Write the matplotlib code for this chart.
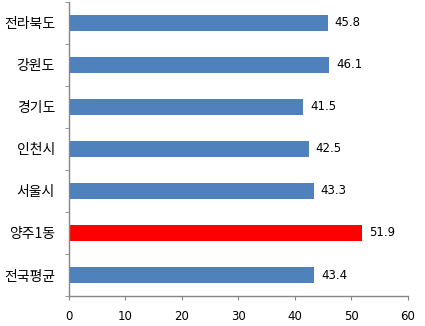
import matplotlib
matplotlib.use("Agg")
import matplotlib.pyplot as plt
from matplotlib.ticker import FixedLocator

plt.rcParams['font.family'] = ['Noto Sans CJK KR', 'DejaVu Sans']

categories = ["전라북도", "강원도", "경기도", "인천시", "서울시", "양주1동", "전국평균"]
values = [45.8, 46.1, 41.5, 42.5, 43.3, 51.9, 43.4]
highlight = "양주1동"
xticks = [0, 10, 20, 30, 40, 50, 60]

blue = "#4F81BD"
red = "#FF0000"
axis_col = "#868686"

fig = plt.figure(figsize=(4.25, 3.26), dpi=100)
ax = fig.add_axes([0.162, 0.092, 0.798, 0.902])

n = len(categories)
pos = list(range(n))[::-1]
colors = [red if c == highlight else blue for c in categories]
ax.barh(pos, values, height=0.4, color=colors)

for p, v in zip(pos, values):
    ax.text(v + 1.2, p, f"{v}", va="center", ha="left", fontsize=8.5, family="DejaVu Sans")

ax.set_xlim(0, 60)
ax.set_ylim(-0.5, n - 0.5)
ax.set_xticks(xticks)
ax.set_xticklabels([str(t) for t in xticks], fontsize=8.5, family="DejaVu Sans")
ax.set_yticks(pos)
ax.set_yticklabels(categories, fontsize=10)
ax.yaxis.set_minor_locator(FixedLocator([i - 0.5 for i in range(n + 1)]))
ax.tick_params(axis="y", which="major", length=0, pad=10)
ax.tick_params(axis="y", which="minor", length=3, color=axis_col, direction="out")
ax.tick_params(axis="x", length=3, color=axis_col, direction="out", pad=7)

for s in ["top", "right"]:
    ax.spines[s].set_visible(False)
for s in ["left", "bottom"]:
    ax.spines[s].set_color(axis_col)
    ax.spines[s].set_linewidth(1)

fig.savefig("out.png", dpi=100)
